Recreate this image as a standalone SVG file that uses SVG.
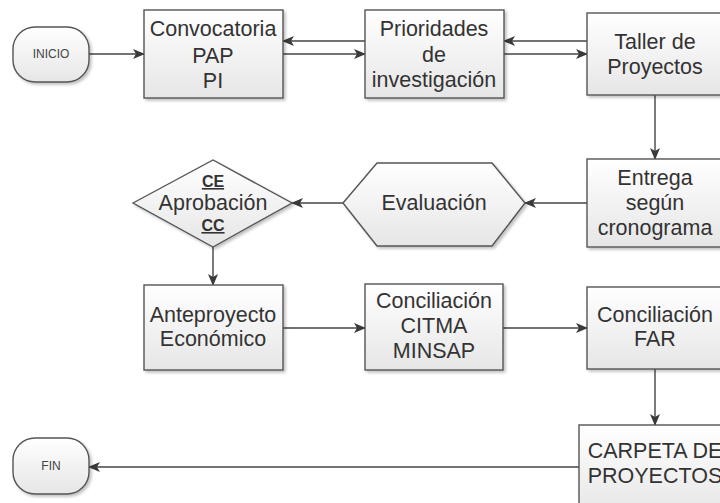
<svg xmlns="http://www.w3.org/2000/svg" width="720" height="503" viewBox="0 0 720 503">
  <defs>
    <linearGradient id="boxFill" x1="0" y1="0" x2="0" y2="1">
      <stop offset="0" stop-color="#ffffff"/>
      <stop offset="1" stop-color="#e6e6e6"/>
    </linearGradient>
    <filter id="shadow" x="-10%" y="-10%" width="130%" height="130%">
      <feGaussianBlur in="SourceAlpha" stdDeviation="1.5"/>
      <feOffset dx="1.5" dy="1.5" result="b"/>
      <feComponentTransfer><feFuncA type="linear" slope="0.25"/></feComponentTransfer>
      <feMerge><feMergeNode/><feMergeNode in="SourceGraphic"/></feMerge>
    </filter>
    <marker id="arrow" viewBox="0 0 12 10" refX="11" refY="5" markerWidth="12" markerHeight="10" markerUnits="userSpaceOnUse" orient="auto">
      <path d="M0,0 L12,5 L0,10 L3,5 z" fill="#3a3a3a"/>
    </marker>
  </defs>
  <style>
    .shape { fill: url(#boxFill); stroke: #555555; stroke-width: 1.4; filter: url(#shadow); }
    .lbl { font-family: "Liberation Sans", Arial, sans-serif; font-size: 21.5px; fill: #333333; text-anchor: middle; }
    .small { font-family: "Liberation Sans", Arial, sans-serif; font-size: 12px; fill: #444444; text-anchor: middle; }
    .ul { font-family: "Liberation Sans", Arial, sans-serif; font-size: 16px; font-weight: bold; fill: #333333; text-anchor: middle; text-decoration: underline; }
    .conn line { stroke: #444444; stroke-width: 1.4; fill: none; marker-end: url(#arrow); }
  </style>
  <rect width="720" height="503" fill="#ffffff"/>

  <g class="conn" id="connectors">
    <line x1="89" y1="54" x2="144" y2="54"/>
    <line x1="365" y1="41" x2="283" y2="41"/>
    <line x1="283" y1="54" x2="365" y2="54"/>
    <line x1="587" y1="41" x2="504" y2="41"/>
    <line x1="504" y1="54" x2="587" y2="54"/>
    <line x1="655" y1="95" x2="655" y2="159"/>
    <line x1="587" y1="203" x2="525" y2="203"/>
    <line x1="343" y1="203" x2="292" y2="203"/>
    <line x1="213" y1="247" x2="213" y2="285"/>
    <line x1="283" y1="328" x2="365" y2="328"/>
    <line x1="503" y1="328" x2="587" y2="328"/>
    <line x1="655" y1="369" x2="655" y2="425"/>
    <line x1="579" y1="467" x2="89" y2="467"/>
  </g>

  <g id="inicio">
    <rect class="shape" x="13" y="27" width="76" height="55" rx="22" ry="22"/>
    <text class="small" x="51" y="58">INICIO</text>
  </g>

  <g id="convocatoria">
    <rect class="shape" x="144" y="10" width="139" height="88"/>
    <text class="lbl" x="213" y="36">Convocatoria</text>
    <text class="lbl" x="213" y="63">PAP</text>
    <text class="lbl" x="213" y="88">PI</text>
  </g>

  <g id="prioridades">
    <rect class="shape" x="365" y="10" width="139" height="88"/>
    <text class="lbl" x="434" y="36">Prioridades</text>
    <text class="lbl" x="434" y="62">de</text>
    <text class="lbl" x="434" y="87">investigación</text>
  </g>

  <g id="taller">
    <rect class="shape" x="587" y="13" width="138" height="82"/>
    <text class="lbl" x="655" y="49">Taller de</text>
    <text class="lbl" x="655" y="74">Proyectos</text>
  </g>

  <g id="entrega">
    <rect class="shape" x="587" y="159" width="138" height="88"/>
    <text class="lbl" x="655" y="185">Entrega</text>
    <text class="lbl" x="655" y="210">según</text>
    <text class="lbl" x="655" y="235">cronograma</text>
  </g>

  <g id="evaluacion">
    <polygon class="shape" points="343,203 377,163 492,163 525,203 492,246 377,246"/>
    <text class="lbl" x="434" y="210">Evaluación</text>
  </g>

  <g id="aprobacion">
    <polygon class="shape" points="133,203 213,160 292,203 213,247"/>
    <text class="ul" x="213" y="187">CE</text>
    <text class="lbl" x="213" y="210">Aprobación</text>
    <text class="ul" x="213" y="231">CC</text>
  </g>

  <g id="anteproyecto">
    <rect class="shape" x="144" y="285" width="139" height="85"/>
    <text class="lbl" x="213" y="322">Anteproyecto</text>
    <text class="lbl" x="213" y="346">Económico</text>
  </g>

  <g id="citma">
    <rect class="shape" x="365" y="284" width="138" height="86"/>
    <text class="lbl" x="434" y="308">Conciliación</text>
    <text class="lbl" x="434" y="333">CITMA</text>
    <text class="lbl" x="434" y="358">MINSAP</text>
  </g>

  <g id="far">
    <rect class="shape" x="587" y="287" width="138" height="82"/>
    <text class="lbl" x="655" y="322">Conciliación</text>
    <text class="lbl" x="655" y="346">FAR</text>
  </g>

  <g id="carpeta">
    <rect class="shape" x="579" y="425" width="152" height="90"/>
    <text class="lbl" x="655" y="458">CARPETA DE</text>
    <text class="lbl" x="655" y="483">PROYECTOS</text>
  </g>

  <g id="fin">
    <rect class="shape" x="13" y="438" width="76" height="56" rx="22" ry="22"/>
    <text class="small" x="51" y="470">FIN</text>
  </g>
</svg>
